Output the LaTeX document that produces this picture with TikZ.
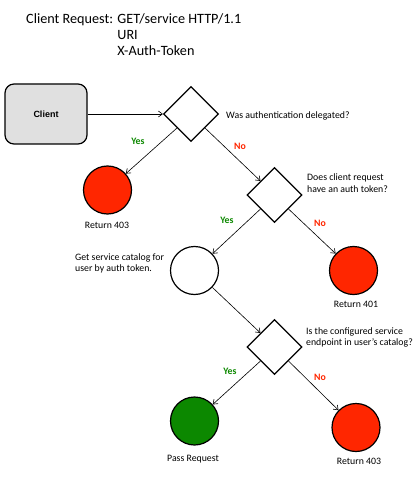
\documentclass[tikz,border=0pt]{standalone}
\usepackage{fontspec}
\setmainfont{Carlito}
\newfontfamily\arialfont{Liberation Sans}
\usetikzlibrary{arrows.meta,shapes.geometric}

\definecolor{stopred}{RGB}{255,38,0}
\definecolor{passgreen}{RGB}{12,136,0}
\definecolor{clientgray}{RGB}{224,224,224}

\begin{document}
\begin{tikzpicture}
  [x=1pt,y=-1pt,
   every node/.style={font=\fontsize{9.8}{11}\selectfont},
   decision/.style={draw,diamond,line width=1.2pt,minimum width=55pt,minimum height=55pt,inner sep=0pt},
   result/.style={draw,circle,line width=1.2pt,minimum size=48pt,inner sep=0pt},
   flow/.style={line width=0.6pt,-{Straight Barb[length=4pt,width=6pt]}},
   yes/.style={text=passgreen,font=\fontsize{9.8}{11}\selectfont\bfseries},
   no/.style={text=stopred,font=\fontsize{9.8}{11}\selectfont\bfseries},
   note/.style={anchor=base west,align=left,inner sep=0pt}]
  \useasboundingbox (0,0) rectangle (419,486);
  % request header
  \node[anchor=base west,inner sep=0pt,font=\fontsize{14.2}{16}\selectfont] (req) at (26,24)
    {\begin{tabular}[t]{@{}l@{ }l@{}}Client Request: & GET/service HTTP/1.1\\ & URI\\ & X-Auth-Token\end{tabular}};
  % nodes
  \node[draw,line width=1.2pt,rounded corners=9pt,fill=clientgray,minimum width=82pt,minimum height=60pt,
        font=\arialfont\fontsize{9}{11}\selectfont\bfseries] (client) at (46,114) {Client};
  \node[decision] (d1) at (191,114) {};
  \node[result,fill=stopred] (r403a) at (107.5,190) {};
  \node[decision] (d2) at (274.5,195) {};
  \node[result,fill=white] (cat) at (194.5,270.5) {};
  \node[result,fill=stopred] (r401) at (353.5,270.5) {};
  \node[decision] (d3) at (274.5,347) {};
  \node[result,fill=passgreen] (pass) at (194.5,421) {};
  \node[result,fill=stopred] (r403b) at (356,427.5) {};
  % texts
  \node[note] (q1) at (226,119) {Was authentication delegated?};
  \node[note] (q2) at (307,192) {Does client request\\have an auth token?};
  \node[note] (q3) at (306,345) {Is the configured service\\endpoint in user's catalog?};
  \node[note] (t2) at (75,271) {Get service catalog for\\user by auth token.};
  \node (l403a) at (107,225) {Return 403};
  \node (l401) at (356,304) {Return 401};
  \node (lpass) at (193,459) {Pass Request};
  \node (l403b) at (359,461) {Return 403};
  \node[yes] (y1) at (138,141) {Yes};
  \node[no] (n1) at (240,146) {No};
  \node[yes] (y2) at (227,220) {Yes};
  \node[no] (n2) at (320,223) {No};
  \node[yes] (y3) at (230,371) {Yes};
  \node[no] (n3) at (320,377) {No};
  % connectors
  \draw[flow] (client) -- (d1);
  \foreach \from/\to in {d1.south west/r403a,d1.south east/d2.north west,d2.south west/cat,d2.south east/r401,
                         cat/d3.north west,d3.south west/pass,d3.south east/r403b}
    \draw[flow] (\from) -- (\to);
\end{tikzpicture}
\end{document}
